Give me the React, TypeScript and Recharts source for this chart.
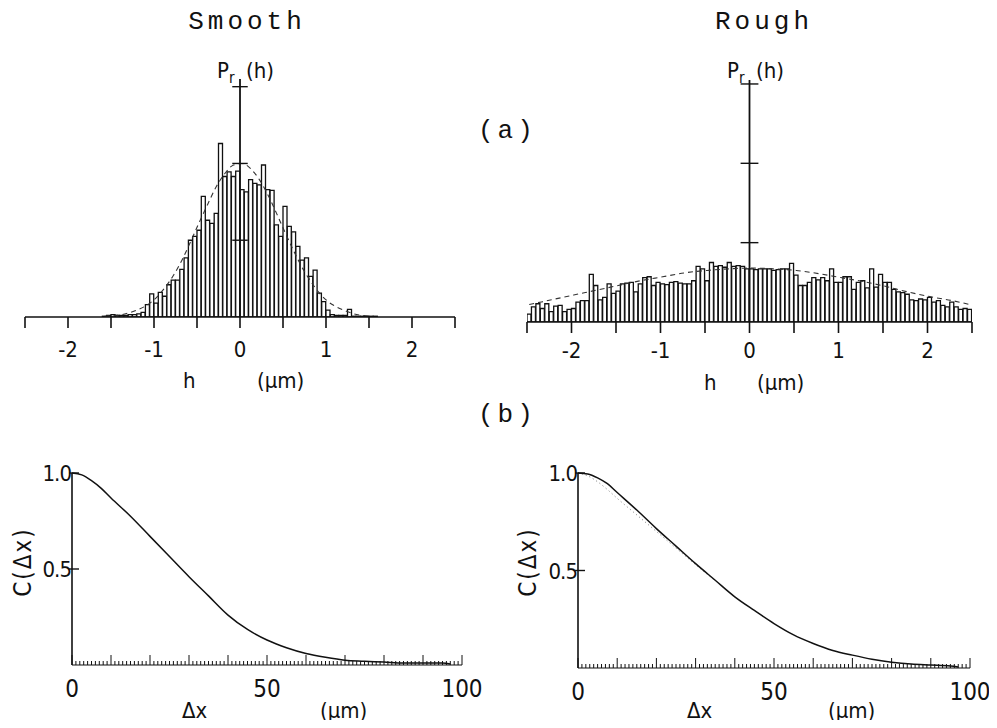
import React from 'react';
import { ComposedChart, Bar, Line, XAxis, YAxis, ReferenceLine } from 'recharts';

// height bins (um), 0.05 wide
const binCenters = [
  -2.475, -2.425, -2.375, -2.325, -2.275, -2.225, -2.175, -2.125, -2.075, -2.025,
  -1.975, -1.925, -1.875, -1.825, -1.775, -1.725, -1.675, -1.625, -1.575, -1.525,
  -1.475, -1.425, -1.375, -1.325, -1.275, -1.225, -1.175, -1.125, -1.075, -1.025,
  -0.975, -0.925, -0.875, -0.825, -0.775, -0.725, -0.675, -0.625, -0.575, -0.525,
  -0.475, -0.425, -0.375, -0.325, -0.275, -0.225, -0.175, -0.125, -0.075, -0.025,
  0.025, 0.075, 0.125, 0.175, 0.225, 0.275, 0.325, 0.375, 0.425, 0.475,
  0.525, 0.575, 0.625, 0.675, 0.725, 0.775, 0.825, 0.875, 0.925, 0.975,
  1.025, 1.075, 1.125, 1.175, 1.225, 1.275, 1.325, 1.375, 1.425, 1.475,
  1.525, 1.575, 1.625, 1.675, 1.725, 1.775, 1.825, 1.875, 1.925, 1.975,
  2.025, 2.075, 2.125, 2.175, 2.225, 2.275, 2.325, 2.375, 2.425, 2.475,
];

const smoothCounts = [
  0, 0, 0, 0, 0, 0, 0, 0, 0, 0,
  0, 0, 0, 0, 0, 0, 0, 0, 0.01, 0.02,
  0.03, 0.02, 0.02, 0.02, 0.03, 0.03, 0.04, 0.06, 0.16, 0.3,
  0.18, 0.32, 0.27, 0.42, 0.48, 0.48, 0.62, 0.77, 1.0, 1.05,
  1.13, 1.57, 1.26, 1.22, 1.35, 2.26, 1.83, 1.89, 1.83, 1.9,
  1.66, 1.63, 1.79, 1.74, 1.72, 1.98, 1.66, 1.65, 1.2, 1.05,
  1.44, 1.18, 1.11, 0.92, 0.74, 0.77, 0.53, 0.61, 0.31, 0.2,
  0.09, 0.03, 0.02, 0.02, 0.02, 0.1, 0.01, 0.01, 0.01, 0.01,
  0.01, 0.01, 0, 0, 0, 0, 0, 0, 0, 0,
  0, 0, 0, 0, 0, 0, 0, 0, 0, 0,
];

const roughCounts = [
  0.1, 0.19, 0.23, 0.17, 0.23, 0.13, 0.2, 0.21, 0.13, 0.16,
  0.17, 0.25, 0.27, 0.27, 0.6, 0.46, 0.28, 0.31, 0.48, 0.36,
  0.39, 0.48, 0.49, 0.5, 0.38, 0.48, 0.56, 0.57, 0.46, 0.5,
  0.48, 0.47, 0.5, 0.51, 0.49, 0.48, 0.48, 0.52, 0.7, 0.67,
  0.52, 0.75, 0.7, 0.71, 0.69, 0.75, 0.7, 0.71, 0.7, 0.67,
  0.67, 0.66, 0.67, 0.67, 0.67, 0.65, 0.66, 0.67, 0.67, 0.74,
  0.59, 0.46, 0.46, 0.5, 0.56, 0.53, 0.56, 0.52, 0.67, 0.5,
  0.5, 0.57, 0.57, 0.41, 0.5, 0.52, 0.43, 0.67, 0.44, 0.6,
  0.5, 0.5, 0.41, 0.38, 0.37, 0.35, 0.28, 0.27, 0.29, 0.28,
  0.31, 0.25, 0.27, 0.21, 0.19, 0.25, 0.19, 0.16, 0.17, 0.16,
];

// dashed gaussian fits
const smoothFitH = [
  -1.575, -1.475, -1.375, -1.275, -1.175, -1.075, -0.975, -0.875, -0.775, -0.675, -0.575,
  -0.475, -0.375, -0.275, -0.175, -0.075, 0.025, 0.125, 0.225, 0.325, 0.425, 0.525,
  0.625, 0.725, 0.825, 0.925, 1.025, 1.125, 1.225, 1.325, 1.425, 1.525,
];
const smoothFitP = [
  0.01, 0.02, 0.03, 0.06, 0.1, 0.16, 0.25, 0.38, 0.54, 0.74, 0.98,
  1.23, 1.47, 1.7, 1.87, 1.98, 2.0, 1.93, 1.79, 1.59, 1.35, 1.1,
  0.86, 0.64, 0.46, 0.31, 0.2, 0.13, 0.08, 0.04, 0.02, 0.01,
];
const roughFitH = [
  -2.475, -2.225, -1.975, -1.725, -1.475, -1.225, -0.975, -0.725, -0.475, -0.225, 0.025,
  0.275, 0.525, 0.775, 1.025, 1.275, 1.525, 1.775, 2.025, 2.275, 2.475,
];
const roughFitP = [
  0.22, 0.28, 0.34, 0.4, 0.46, 0.52, 0.57, 0.62, 0.65, 0.67, 0.68,
  0.67, 0.65, 0.61, 0.56, 0.51, 0.45, 0.38, 0.32, 0.27, 0.22,
];

const pTicks = [1, 2, 3];
const hTicks = [-2.5, -2, -1.5, -1, -0.5, 0, 0.5, 1, 1.5, 2, 2.5];
const hLabels = [-2, -1, 0, 1, 2];

// correlation functions
const dxPoints = [0, 2.5, 5, 7.5, 10, 15, 20, 25, 30, 35, 40, 45, 50, 55, 60, 65, 70, 75, 80, 85, 90, 95, 97];
const smoothCorr = [1.0, 0.99, 0.96, 0.92, 0.87, 0.775, 0.67, 0.565, 0.46, 0.36, 0.26, 0.185, 0.13, 0.09, 0.06, 0.04, 0.025, 0.02, 0.015, 0.01, 0.01, 0.01, 0.005];
const roughCorr = [1.0, 0.995, 0.975, 0.945, 0.9, 0.81, 0.715, 0.625, 0.535, 0.45, 0.365, 0.295, 0.228, 0.17, 0.126, 0.09, 0.066, 0.045, 0.03, 0.02, 0.015, 0.01, 0.005];
const roughFitDx = [0, 2.5, 5, 7.5, 10, 15, 20, 25, 30, 35];
const roughFitC = [1.0, 0.985, 0.955, 0.915, 0.87, 0.785, 0.7, 0.615, 0.53, 0.447];
const cTicks = [0.5, 1.0];
const dxLabels = [0, 50, 100];
const dxTicks = Array.from({ length: 101 }, (_, i) => i);

const mono = '"Liberation Mono", "DejaVu Sans Mono", monospace';
const sans = '"Liberation Sans Narrow", "DejaVu Sans Condensed", "Liberation Sans", sans-serif';
const ink = '#111';

const smoothData = binCenters.map((h, i) => ({ h, c: smoothCounts[i] }));
const roughData = binCenters.map((h, i) => ({ h, c: roughCounts[i] }));
const smoothFit = smoothFitH.map((h, i) => ({ h, p: smoothFitP[i] }));
const roughFit = roughFitH.map((h, i) => ({ h, p: roughFitP[i] }));
const smoothCorrData = dxPoints.map((dx, i) => ({ dx, c: smoothCorr[i] }));
const roughCorrData = dxPoints.map((dx, i) => ({ dx, c: roughCorr[i] }));
const roughCorrFit = roughFitDx.map((dx, i) => ({ dx, f: roughFitC[i] }));

const HistTick = (props: any) => {
  const { x, y, payload, labelDy } = props;
  const v = payload.value;
  return (
    <g>
      <line x1={x} x2={x} y1={y} y2={y + 11} stroke={ink} strokeWidth={1.6} />
      {hLabels.includes(v) && (
        <text x={x} y={y + labelDy} textAnchor="middle" fontFamily={sans} fontSize={22} fill={ink}>
          {v < 0 ? '-' + Math.abs(v) : v}
        </text>
      )}
    </g>
  );
};

const DxTick = (props: any) => {
  const { x, y, payload } = props;
  const v = payload.value;
  const major = v % 10 === 0;
  return (
    <g>
      <line x1={x} x2={x} y1={y} y2={y - (major ? 10 : 4)} stroke={ink} strokeWidth={1} />
      {dxLabels.includes(v) && (
        <text x={x} y={y + 32} textAnchor="middle" fontFamily={sans} fontSize={24} fill={ink}>
          {v}
        </text>
      )}
    </g>
  );
};

const CTick = (props: any) => {
  const { x, y, payload } = props;
  return (
    <g>
      <line x1={x - 3} x2={x + 7} y1={y} y2={y} stroke={ink} strokeWidth={1.4} />
      <text x={x - 1} y={y + 8} textAnchor="end" fontFamily={sans} fontSize={22} letterSpacing={-1} fill={ink}>
        {payload.value.toFixed(1)}
      </text>
    </g>
  );
};

const Histogram = ({ data, fit, left, width, margin, top, half, labelDy }: any) => (
  <div style={{ position: 'absolute', left, top: 0 }}>
    <ComposedChart width={width} height={400} data={data} margin={margin} barCategoryGap={0}>
      <XAxis
        dataKey="h"
        type="number"
        domain={[-2.5, 2.5]}
        ticks={hTicks}
        interval={0}
        allowDataOverflow
        height={40}
        tickSize={0}
        tickMargin={0}
        tickLine={false}
        axisLine={{ stroke: ink, strokeWidth: 1.6 }}
        tick={(p: any) => <HistTick {...p} labelDy={labelDy} />}
      />
      <YAxis hide type="number" domain={[0, top]} allowDataOverflow />
      <Bar dataKey="c" fill="#fff" stroke={ink} strokeWidth={1.3} isAnimationActive={false} />
      <Line
        data={fit}
        dataKey="p"
        type="monotone"
        stroke="#333"
        strokeWidth={1.1}
        strokeDasharray="5 4"
        dot={false}
        isAnimationActive={false}
      />
      <ReferenceLine x={0} stroke={ink} strokeWidth={1.8} />
      {pTicks.map((t) => (
        <ReferenceLine key={t} segment={[{ x: -half, y: t }, { x: half, y: t }]} stroke={ink} strokeWidth={1.4} />
      ))}
    </ComposedChart>
  </div>
);

const Correlation = ({ data, fit, left, margin }: any) => (
  <div style={{ position: 'absolute', left, top: 430 }}>
    <ComposedChart width={497} height={298} data={data} margin={margin}>
      <XAxis
        dataKey="dx"
        type="number"
        domain={[0, 100]}
        ticks={dxTicks}
        interval={0}
        height={40}
        tickSize={0}
        tickMargin={0}
        tickLine={false}
        axisLine={{ stroke: ink, strokeWidth: 1.2 }}
        tick={(p: any) => <DxTick {...p} />}
      />
      <YAxis
        type="number"
        domain={[0, 1]}
        ticks={cTicks}
        width={50}
        tickSize={0}
        tickMargin={0}
        tickLine={false}
        axisLine={{ stroke: ink, strokeWidth: 1.6 }}
        tick={(p: any) => <CTick {...p} />}
      />
      {fit && (
        <Line
          data={fit}
          dataKey="f"
          type="monotone"
          stroke="#777"
          strokeWidth={1}
          strokeDasharray="1 3"
          dot={false}
          isAnimationActive={false}
        />
      )}
      <Line dataKey="c" type="monotone" stroke={ink} strokeWidth={1.5} dot={false} isAnimationActive={false} />
    </ComposedChart>
  </div>
);

export default function App() {
  return (
    <div style={{ position: 'relative', width: 997, height: 728, margin: -8, background: '#fff', overflow: 'hidden' }}>
      <Histogram
        data={smoothData}
        fit={smoothFit}
        left={0}
        width={480}
        margin={{ top: 79, right: 25, bottom: 43, left: 25 }}
        top={3.1}
        half={0.09}
        labelDy={40}
      />
      <Histogram
        data={roughData}
        fit={roughFit}
        left={500}
        width={497}
        margin={{ top: 80, right: 25, bottom: 38, left: 27 }}
        top={3.05}
        half={0.1}
        labelDy={36}
      />
      <Correlation data={smoothCorrData} left={0} margin={{ top: 43, right: 35, bottom: 23, left: 22 }} />
      <Correlation data={roughCorrData} fit={roughCorrFit} left={500} margin={{ top: 43, right: 27, bottom: 20, left: 28 }} />

      <svg width={997} height={728} style={{ position: 'absolute', left: 0, top: 0, pointerEvents: 'none' }}>
        <g fontFamily={mono} fontSize={26} fill={ink}>
          <text x={247} y={29} textAnchor="middle" letterSpacing={4}>Smooth</text>
          <text x={764} y={29} textAnchor="middle" letterSpacing={4}>Rough</text>
          <text x={478} y={138} letterSpacing={4}>(a)</text>
          <text x={478} y={422} letterSpacing={4}>(b)</text>
        </g>
        <g fontFamily={sans} fontSize={22} fill={ink}>
          <text x={217} y={78}>
            P<tspan fontSize={15} dy={5}>r</tspan>
            <tspan x={246} dy={-5}>(h)</tspan>
          </text>
          <text x={727} y={78}>
            P<tspan fontSize={15} dy={5}>r</tspan>
            <tspan x={756} dy={-5}>(h)</tspan>
          </text>
          <text x={183} y={388}>h</text>
          <text x={257} y={388}>(μm)</text>
          <text x={704} y={390}>h</text>
          <text x={757} y={390}>(μm)</text>
          <text x={182} y={718}>Δx</text>
          <text x={320} y={718}>(μm)</text>
          <text x={687} y={718}>Δx</text>
          <text x={828} y={718}>(μm)</text>
          <text x={31} y={562} transform="rotate(-90 31 562)" textAnchor="middle" fontSize={24} letterSpacing={2}>C(Δx)</text>
          <text x={536} y={562} transform="rotate(-90 536 562)" textAnchor="middle" fontSize={24} letterSpacing={2}>C(Δx)</text>
        </g>
      </svg>
    </div>
  );
}
